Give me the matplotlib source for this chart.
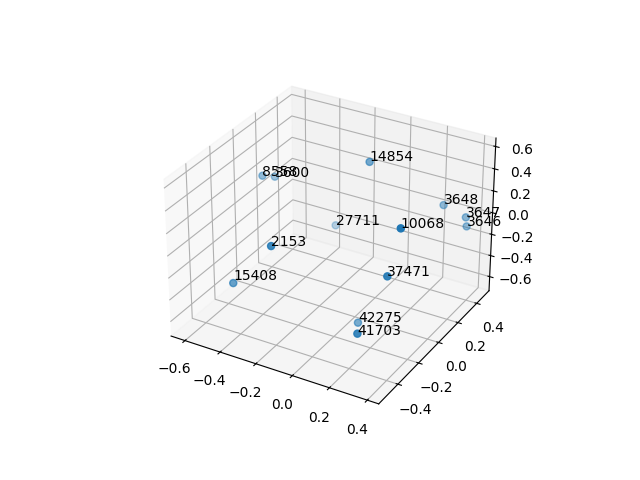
import matplotlib
matplotlib.use('Agg')
import matplotlib.pyplot as plt

labels = ['14854','3648','3647','3646','8558','3600','27711','10068','2153','15408','37471','42275','41703']
xs = [-0.033,0.234,0.359,0.365,-0.567,-0.551,-0.328,0.420,-0.162,-0.402,0.361,0.098,0.294]
ys = [0.189,0.453,0.449,0.449,0.077,0.164,0.373,-0.327,-0.489,-0.449,-0.337,-0.141,-0.489]
zs = [0.515,0.034,-0.018,-0.099,0.243,0.173,-0.351,0.556,0.263,-0.220,0.122,-0.609,-0.281]
label_dz = [0.01,0.01,0,0,0,0,0,0,0,0.025,0,0.01,-0.01]

fig = plt.figure()
ax = fig.add_subplot(projection='3d')
ax.scatter(xs, ys, zs, s=26)
for lab, x, y, z, dz in zip(labels, xs, ys, zs, label_dz):
    ax.text(x, y, z + dz, lab)
ax.set_xlim(-0.68, 0.46)
ax.set_ylim(-0.58, 0.535)
ax.set_zlim(-0.735, 0.675)
fig.savefig('out.png', dpi=100)
